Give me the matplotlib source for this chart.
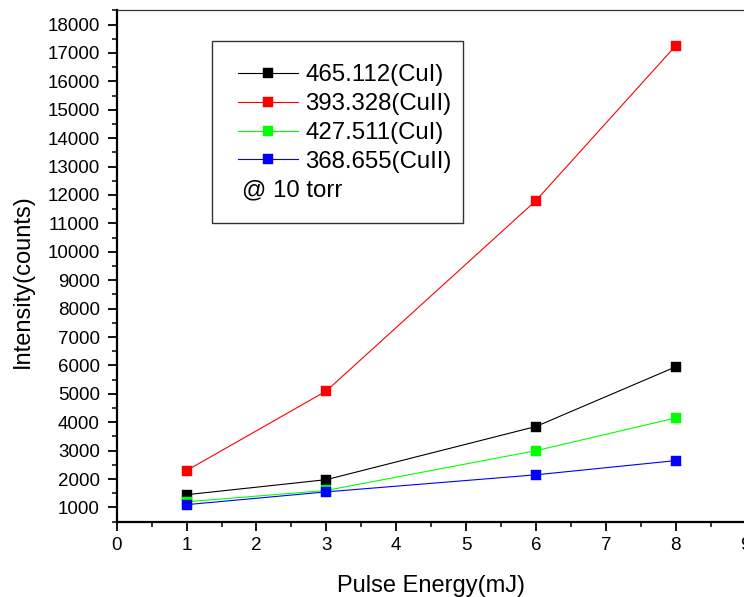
import matplotlib
matplotlib.use("Agg")
import matplotlib.pyplot as plt
from matplotlib.patches import Rectangle
from matplotlib.ticker import MultipleLocator

plt.rcParams['font.family'] = ['Liberation Sans', 'DejaVu Sans']

pulse_energy = [1, 3, 6, 8]
cu_465 = [1450, 1980, 3850, 5950]
cu_393 = [2300, 5100, 11800, 17250]
cu_427 = [1200, 1600, 3000, 4150]
cu_368 = [1100, 1550, 2150, 2650]

labels = ['465.112(CuI)', '393.328(CuII)', '427.511(CuI)', '368.655(CuII)']
colors = ['black', 'red', '#00ff00', 'blue']
series = [cu_465, cu_393, cu_427, cu_368]

W, H = 744, 597
ax_l, ax_r, ax_t, ax_b = 116.7, 745.5, 10.3, 521.7
fig = plt.figure(figsize=(W / 100, H / 100), dpi=100)
ax = fig.add_axes([ax_l / W, (H - ax_b) / H, (ax_r - ax_l) / W, (ax_b - ax_t) / H])

handles = []
for ys, c, lab in zip(series, colors, labels):
    h, = ax.plot(pulse_energy, ys, color=c, lw=0.8, marker='s', markersize=7.2,
                 markerfacecolor=c, markeredgecolor=c, markeredgewidth=0.3, label=lab)
    handles.append(h)

ax.set_xlim(0, 9)
ax.set_ylim(500, 18500)
ax.xaxis.set_major_locator(MultipleLocator(1))
ax.xaxis.set_minor_locator(MultipleLocator(0.5))
ax.yaxis.set_major_locator(MultipleLocator(1000))
ax.yaxis.set_minor_locator(MultipleLocator(500))
ax.set_yticks(range(1000, 18001, 1000))
ax.tick_params(which='major', direction='out', length=6.7, width=1.3, labelsize=13.5)
ax.tick_params(axis='y', which='major', pad=5.5)
ax.tick_params(axis='x', which='major', pad=4)
ax.tick_params(which='minor', direction='out', length=3.5, width=1.1)
ax.spines['left'].set_linewidth(1.6)
ax.spines['bottom'].set_linewidth(1.6)
ax.spines['top'].set_linewidth(0.9)
ax.spines['top'].set_color('#333333')
ax.spines['right'].set_linewidth(0.9)

aw, ah = ax_r - ax_l, ax_b - ax_t
ax.set_xlabel('Pulse Energy(mJ)', fontsize=17)
ax.xaxis.set_label_coords((431 - ax_l) / aw, (ax_b - 575) / ah)
ax.set_ylabel('Intensity(counts)', fontsize=17)
ax.yaxis.set_label_coords((34 - ax_l) / aw, (ax_b - 281) / ah)

# legend box
box = Rectangle((212.3 / W, 1 - 223.3 / H), (463 - 212.3) / W, (223.3 - 41) / H,
                transform=fig.transFigure, fill=False, edgecolor='#333333', lw=1.0)
fig.patches.append(box)
leg = fig.legend(handles=handles, loc='upper left',
                 bbox_to_anchor=(238 / W, 1 - 64 / H), frameon=False,
                 fontsize=17.3, handlelength=2.5, handletextpad=0.3,
                 labelspacing=0.29, borderpad=0, borderaxespad=0)
fig.text(241.7 / W, 1 - 190.7 / H, '@ 10 torr', fontsize=17.3, va='center', ha='left')

fig.savefig('out.png', dpi=100)
